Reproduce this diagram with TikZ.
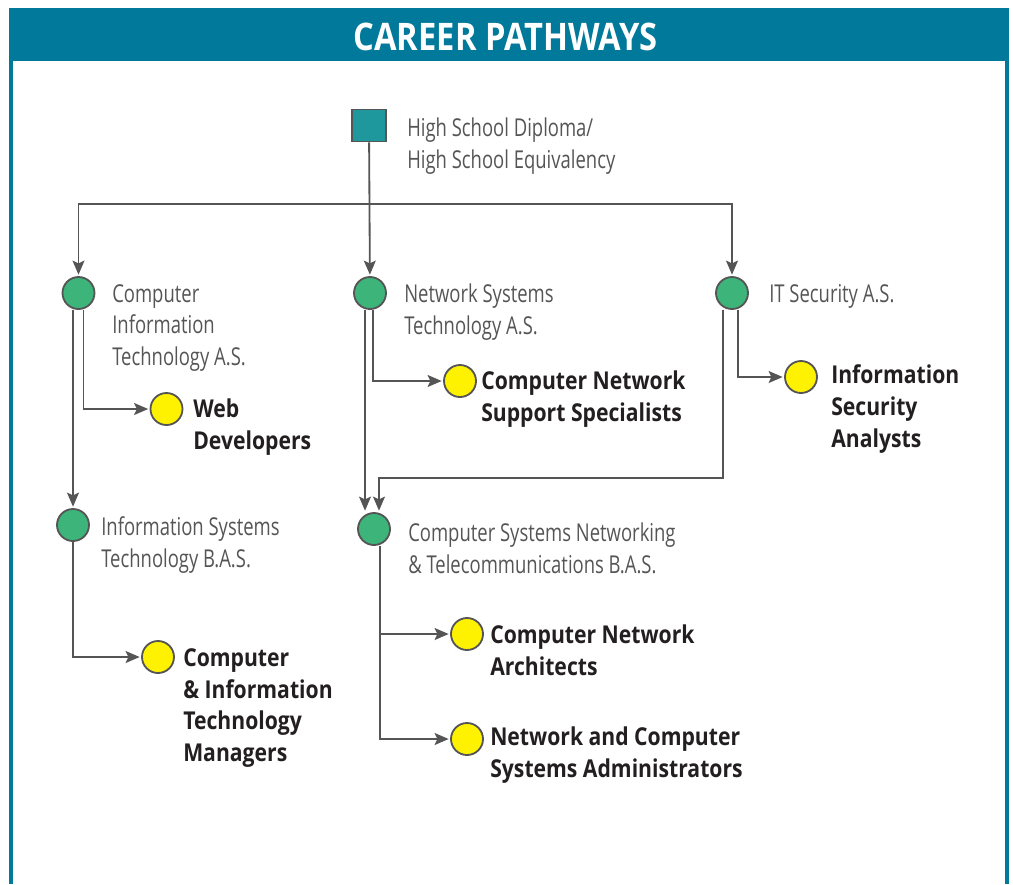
\documentclass[tikz,border=0pt]{standalone}
\usepackage{fontspec}
\usepackage{xcolor}
\usetikzlibrary{arrows.meta,calc}
\newfontfamily\grayfont[FakeStretch=0.75]{Open Sans}
\newfontfamily\boldfont[FakeStretch=0.86]{Open Sans}
\definecolor{frame}{HTML}{00799A}
\definecolor{degree}{HTML}{3DB57A}
\definecolor{job}{HTML}{FFF200}
\definecolor{school}{HTML}{1E979D}
\definecolor{edge}{HTML}{555555}
\definecolor{ink}{HTML}{231F20}

\begin{document}
\begin{tikzpicture}[x=0.025cm, y=-0.025cm,
  deg/.style={circle, draw=edge, fill=degree, line width=1.3pt, minimum size=0.8cm, inner sep=0pt},
  jobc/.style={circle, draw=edge, fill=job, line width=1.3pt, minimum size=0.8cm, inner sep=0pt},
  lab/.style={anchor=west, inner sep=0pt, align=left, text=edge, font=\grayfont\fontsize{17.5}{22.7}\selectfont},
  joblab/.style={anchor=west, inner sep=0pt, align=left, text=ink, font=\boldfont\bfseries\fontsize{17.5}{22.7}\selectfont},
  arr/.style={-{Stealth[length=10pt,width=8.5pt,inset=2pt]}, draw=edge, line width=1.3pt, shorten >=1pt}]
\useasboundingbox (0,0) rectangle (1013,884);

\fill[frame] (9.5,7.5) rectangle (1008.5,61);
\draw[frame, line width=2.2pt] (11,8) -- (11,884);
\draw[frame, line width=2.2pt] (1007,8) -- (1007,884);
\node (title) at (505.5,37) [text=white, font=\boldfont\bfseries\fontsize{27}{32}\selectfont] {CAREER PATHWAYS};

\node (hs) at (369,125.5) [draw=edge, fill=school, line width=1.3pt, minimum width=0.85cm, minimum height=0.8cm, inner sep=0pt] {};
\node (hsl) at (407,146) [lab] {High School Diploma/\\High School Equivalency};

\node (cit) at (78.5,293) [deg] {};
\node (nst) at (370,293) [deg] {};
\node (its) at (732,293) [deg] {};
\node (citl) at (112,328) [lab] {Computer\\Information\\Technology A.S.};
\node (nstl) at (404,312) [lab] {Network Systems\\Technology A.S.};
\node (itsl) at (769,296.5) [lab] {IT Security A.S.};

\node (web) at (166.5,409) [jobc] {};
\node (cnss) at (460,381) [jobc] {};
\node (isa) at (801,377) [jobc] {};
\node (webl) at (193,427) [joblab] {Web\\Developers};
\node (cnssl) at (481,399) [joblab] {Computer Network\\Support Specialists};
\node (isal) at (831,409) [joblab] {Information\\Security\\Analysts};

\node (ist) at (73,525) [deg] {};
\node (csn) at (374,529) [deg] {};
\node (istl) at (101,545) [lab] {Information Systems\\Technology B.A.S.};
\node (csnl) at (408,548) [lab] {Computer Systems Networking\\\& Telecommunications B.A.S.};

\node (citm) at (158,657) [jobc] {};
\node (cna) at (467,634) [jobc] {};
\node (ncsa) at (467,739) [jobc] {};
\node (citml) at (183,708) [joblab] {Computer\\\& Information\\Technology\\Managers};
\node (cnal) at (490,650) [joblab] {Computer Network\\Architects};
\node (ncsal) at (490,755) [joblab] {Network and Computer\\Systems Administrators};

\coordinate (split) at (369,204);
\draw[arr] (hs) -- (nst);
\draw[arr] (split) -| (cit);
\draw[arr] (split) -| (its);

\draw[arr] ($(cit.south)+(5,0)$) |- (web);
\draw[arr] (cit.south -| ist) -- (ist);
\draw[arr] (ist.south) |- (citm);

\draw[arr] ($(nst.south)+(3,0)$) |- (cnss);
\draw[arr] ($(nst.south)+(-5,0)$) -- ($(csn.north)+(-9,0)$);

\draw[arr] ($(its.south)+(6,0)$) |- (isa);
\draw[arr] ($(its.south)+(-9,0)$) |- (379,478) -- ($(csn.north)+(5,0)$);

\draw[arr] ($(csn.south)+(6,0)$) |- (cna);
\draw[arr] ($(csn.south)+(6,0)$) |- (ncsa);
\end{tikzpicture}
\end{document}
